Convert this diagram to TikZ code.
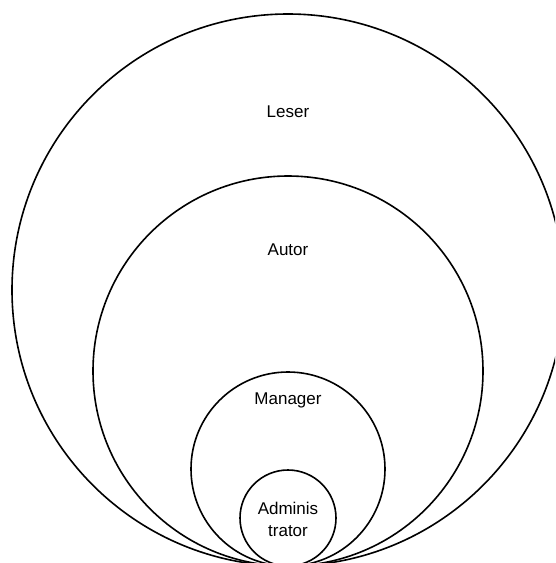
\documentclass[tikz,border=0pt]{standalone}
\usepackage{fontspec}
\setmainfont{Liberation Sans}
\begin{document}
\begin{tikzpicture}[x=1pt,y=-1pt,
  ring/.style={draw=black,line width=1.6pt},
  lbl/.style={font=\fontsize{17}{22}\selectfont,align=center}]
\useasboundingbox (0,0) rectangle (555,563);
% nested role circles, all touching at one point just below the frame
\begin{scope}
\clip (0,0) rectangle (555,563);
\draw[ring] (288,290) circle[radius=276];
\draw[ring] (288,371) circle[radius=195];
\draw[ring] (288,469) circle[radius=97];
\draw[ring] (288,518) circle[radius=48];
\end{scope}
\node[lbl] (leser) at (288,112) {Leser};
\node[lbl] (autor) at (288,250) {Autor};
\node[lbl] (manager) at (288,400) {Manager};
\node[lbl] (admin) at (288,519) {Adminis\\trator};
\end{tikzpicture}
\end{document}
